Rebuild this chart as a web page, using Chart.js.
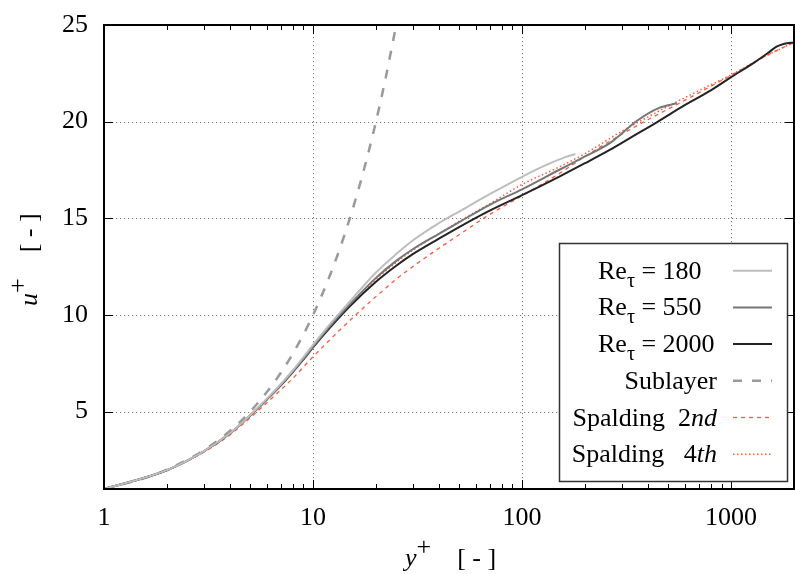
<!DOCTYPE html>
<html><head><meta charset="utf-8">
<script src="https://cdn.jsdelivr.net/npm/chart.js@4.4.1/dist/chart.umd.min.js"></script>
<style>html,body{margin:0;padding:0;background:#fff}</style>
</head><body>
<canvas id="c" width="795" height="574"></canvas>
<script>
// ---- data ----
const re180Y = [1,2,3,4,5,6,7,8,9,10,12,15,20,25,30,40,50,70,100,130,160,180];
const re180U = [1.0,1.98,2.95,3.88,4.82,5.66,6.42,7.13,7.82,8.45,9.5,10.7,12.2,13.15,13.85,14.75,15.35,16.25,17.15,17.75,18.15,18.33];

const re550Y = [1,2,3,4,5,6,7,8,9,10,12,15,20,25,30,40,50,70,100,150,200,264,355,450,550];
const re550U = [1.0,1.98,2.95,3.88,4.8,5.63,6.37,7.08,7.73,8.36,9.4,10.55,11.92,12.8,13.4,14.2,14.8,15.7,16.5,17.5,18.2,18.9,20.05,20.7,20.95];

const re2000Y = [1,2,3,4,5,6,7,8,9,10,12,15,20,25,30,40,50,70,100,150,200,264,340,443,600,800,1000,1300,1500,1650,1800,2000];
const re2000U = [1.0,1.97,2.94,3.87,4.8,5.62,6.35,7.05,7.7,8.32,9.32,10.45,11.72,12.55,13.15,13.95,14.55,15.4,16.2,17.15,17.85,18.55,19.25,19.98,20.85,21.62,22.3,23.08,23.55,23.88,24.03,24.1];

const subY = [1,1.5,2,3,4,5,6,7,8,9,10,12,14,16,18,20,22,25];
const subU = [1,1.5,2,3,4,5,6,7,8,9,10,12,14,16,18,20,22,25];

const sp2Y = [1,2,3,4,5,6,7,8,10,12,15,20,26,30,40,50,70,100,150,200,300,400,600,1000,1500,2000];
const sp2U = [1.0,1.96,2.9,3.8,4.68,5.45,6.12,6.72,7.84,8.7,9.72,10.95,12.0,12.5,13.45,14.15,15.2,16.17,17.3,18.2,19.35,20.1,21.1,22.4,23.45,24.1];

const sp4Y = [1,2,3,4,5,6,7,8,10,12,15,20,25,30,40,50,70,100,150,200,300,500,700,1000,1500,2000];
const sp4U = [1.0,1.97,2.93,3.85,4.78,5.62,6.38,7.1,8.4,9.42,10.55,11.85,12.72,13.35,14.2,14.85,15.75,16.75,17.65,18.35,19.5,20.8,21.6,22.42,23.45,24.1];

const xMajorTicks = [1,10,100,1000];
const xMinorTicks = [2,3,4,5,6,7,8,9,20,30,40,50,60,70,80,90,200,300,400,500,600,700,800,900];
const yTicks = [5,10,15,20,25];

// legend: text parts and text anchoring (left x or right x)
const legendTexts = [
  [['Re',''],['τ','sub'],[' = 180','']],
  [['Re',''],['τ','sub'],[' = 550','']],
  [['Re',''],['τ','sub'],[' = 2000','']],
  [['Sublayer','']],
  [['Spalding  2',''],['nd','it']],
  [['Spalding   4',''],['th','it']]
];
const legendAlign = ['left','left','left','right','right','right'];

// ---- chart ----
const SERIF = "'Liberation Serif','DejaVu Serif',serif";
const pts = (xs, ys) => xs.map((x, i) => ({x: x, y: ys[i]}));

const datasets = [
  {data: pts(re180Y, re180U), borderColor: '#bdbdbd', borderWidth: 2},
  {data: pts(re550Y, re550U), borderColor: '#767676', borderWidth: 2},
  {data: pts(re2000Y, re2000U), borderColor: '#232323', borderWidth: 2},
  {data: pts(subY, subU), borderColor: '#9a9a9a', borderWidth: 2.5, borderDash: [9, 10]},
  {data: pts(sp2Y, sp2U), borderColor: '#ff5a3c', borderWidth: 1.3, borderDash: [4, 4]},
  {data: pts(sp4Y, sp4U), borderColor: '#ff5a3c', borderWidth: 1.5, borderDash: [1.5, 2.5]}
].map(d => Object.assign({pointRadius: 0, fill: false, cubicInterpolationMode: 'monotone'}, d));

function drawRich(ctx, parts, x, y, align) {
  const fontFor = k => k === 'sub' ? '20px ' + SERIF : k === 'it' ? 'italic 26px ' + SERIF :
    k === 'sup' ? '26px ' + SERIF : '26px ' + SERIF;
  let w = 0;
  parts.forEach(p => { ctx.font = fontFor(p[1]); w += ctx.measureText(p[0]).width; });
  let cx = align === 'right' ? x - w : align === 'center' ? x - w / 2 : x;
  parts.forEach(p => {
    ctx.font = fontFor(p[1]);
    const dy = p[1] === 'sub' ? 8 : p[1] === 'sup' ? -11 : 0;
    ctx.fillText(p[0], cx, y + dy);
    cx += ctx.measureText(p[0]).width;
  });
}

const decor = {
  id: 'decor',
  beforeDatasetsDraw(chart) {
    const {ctx, chartArea: a, scales: {x, y}} = chart;
    ctx.save();
    ctx.strokeStyle = '#777';
    ctx.lineWidth = 1;
    ctx.setLineDash([1.2, 2.8]);
    xMajorTicks.forEach(v => {
      const px = Math.round(x.getPixelForValue(v)) + 0.5;
      if (px <= a.left + 2 || px >= a.right - 2) return;
      ctx.beginPath(); ctx.moveTo(px, a.top); ctx.lineTo(px, a.bottom); ctx.stroke();
    });
    yTicks.forEach(v => {
      const py = Math.round(y.getPixelForValue(v)) + 0.5;
      if (py <= a.top + 2 || py >= a.bottom - 2) return;
      ctx.beginPath(); ctx.moveTo(a.left, py); ctx.lineTo(a.right, py); ctx.stroke();
    });
    ctx.restore();
  },
  afterDatasetsDraw(chart) {
    const {ctx, chartArea: a, scales: {x, y}} = chart;
    ctx.save();
    ctx.setLineDash([]);
    ctx.strokeStyle = '#000';
    ctx.lineWidth = 1;
    const tick = (v, len) => {
      const px = Math.round(x.getPixelForValue(v)) + 0.5;
      ctx.beginPath();
      ctx.moveTo(px, a.bottom); ctx.lineTo(px, a.bottom - len);
      ctx.moveTo(px, a.top); ctx.lineTo(px, a.top + len);
      ctx.stroke();
    };
    xMinorTicks.forEach(v => tick(v, 5));
    xMajorTicks.forEach(v => tick(v, 9));
    yTicks.forEach(v => {
      const py = Math.round(y.getPixelForValue(v)) + 0.5;
      ctx.beginPath();
      ctx.moveTo(a.left, py); ctx.lineTo(a.left + 9, py);
      ctx.moveTo(a.right, py); ctx.lineTo(a.right - 9, py);
      ctx.stroke();
    });
    ctx.lineWidth = 2;
    ctx.strokeRect(a.left, a.top, a.right - a.left, a.bottom - a.top);

    // legend box
    const lx = 559.5, ly = 243.5, lw = 228, lh = 238;
    ctx.fillStyle = '#fff';
    ctx.fillRect(lx, ly, lw, lh);
    ctx.lineWidth = 1.5;
    ctx.strokeStyle = '#333';
    ctx.strokeRect(lx, ly, lw, lh);
    ctx.fillStyle = '#000';
    ctx.textBaseline = 'alphabetic';
    chart.data.datasets.forEach((ds, i) => {
      const cy = 270.7 + i * 36.7;
      if (legendAlign[i] === 'left') drawRich(ctx, legendTexts[i], 598, cy + 8, 'left');
      else drawRich(ctx, legendTexts[i], 717, cy + 8, 'right');
      ctx.save();
      ctx.strokeStyle = ds.borderColor;
      ctx.lineWidth = ds.borderWidth;
      ctx.setLineDash(ds.borderDash || []);
      ctx.beginPath(); ctx.moveTo(733, cy); ctx.lineTo(772, cy); ctx.stroke();
      ctx.restore();
    });

    // axis titles
    ctx.fillStyle = '#000';
    drawRich(ctx, [['y', 'it'], ['+', 'sup'], ['    [ - ]', '']], 405, 566, 'left');
    ctx.save();
    ctx.translate(37, 306);
    ctx.rotate(-Math.PI / 2);
    drawRich(ctx, [['u', 'it'], ['+', 'sup'], ['    [ - ]', '']], 0, 0, 'left');
    ctx.restore();
    ctx.restore();
  }
};

const noPad = s => { s.paddingTop = 0; s.paddingBottom = 0; s.paddingLeft = 0; s.paddingRight = 0; };

new Chart(document.getElementById('c'), {
  type: 'line',
  data: {datasets: datasets},
  options: {
    responsive: false,
    animation: false,
    devicePixelRatio: 1,
    layout: {padding: {top: 25, right: 1, left: 0, bottom: 0}},
    plugins: {legend: {display: false}, tooltip: {enabled: false}},
    scales: {
      x: {
        type: 'logarithmic', min: 1, max: 2000, position: 'bottom',
        grid: {display: false, drawTicks: false}, border: {display: false},
        afterBuildTicks: s => { s.ticks = xMajorTicks.map(v => ({value: v, major: true})); },
        afterFit: s => { s.height = 85; noPad(s); },
        ticks: {
          autoSkip: false, maxRotation: 0, color: '#000', padding: 14,
          font: {family: SERIF, size: 26},
          callback: v => String(v)
        }
      },
      y: {
        type: 'linear', min: 1, max: 25,
        grid: {display: false, drawTicks: false}, border: {display: false},
        afterBuildTicks: s => { s.ticks = yTicks.map(v => ({value: v})); },
        afterFit: s => { s.width = 104; noPad(s); },
        ticks: {
          color: '#000', padding: 16,
          font: {family: SERIF, size: 26},
          callback: v => String(v)
        }
      }
    }
  },
  plugins: [decor]
});
</script>
</body></html>
